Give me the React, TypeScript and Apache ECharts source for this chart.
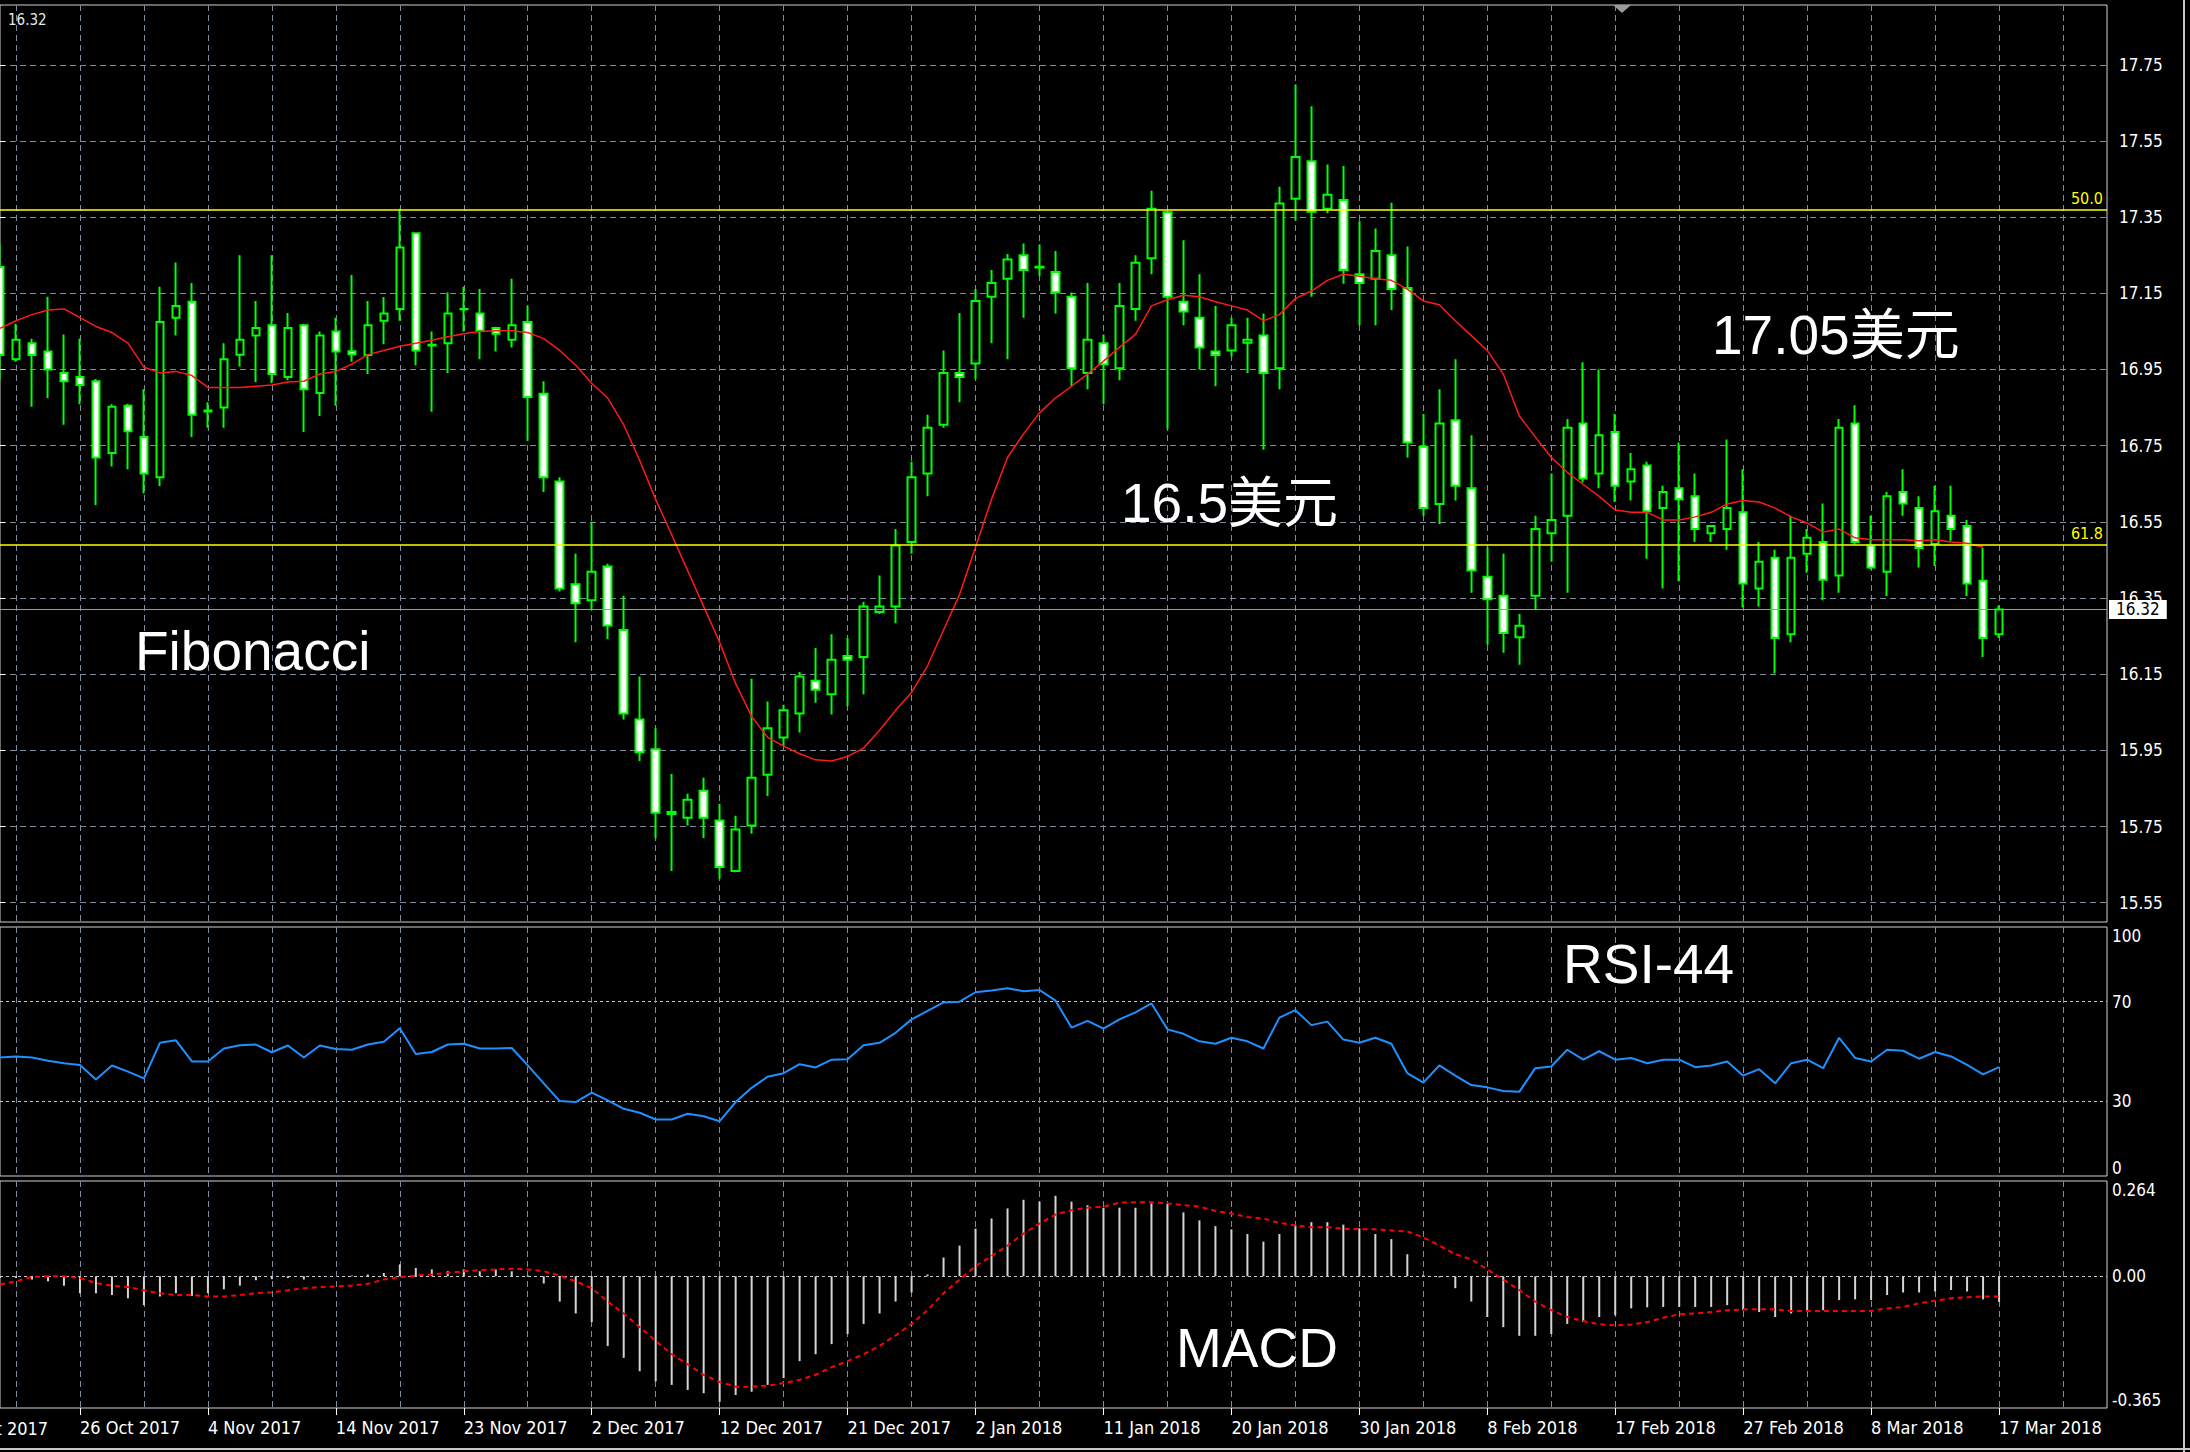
import React, { useEffect, useRef } from "react";
import * as echarts from "echarts";

// [open, close, low, high] for each daily bar, oldest first
const candles: number[][] = [
  [17.219, 16.988, 16.922, 17.281], [16.977, 17.028, 16.970, 17.070], [17.019, 16.988, 16.852, 17.031],
  [16.997, 16.950, 16.875, 17.141], [16.941, 16.919, 16.805, 17.042], [16.930, 16.909, 16.859, 17.031],
  [16.919, 16.719, 16.594, 16.925], [16.731, 16.852, 16.695, 16.859], [16.855, 16.788, 16.688, 16.860],
  [16.773, 16.677, 16.625, 16.898], [16.667, 17.075, 16.644, 17.167], [17.086, 17.117, 17.039, 17.231],
  [17.128, 16.831, 16.773, 17.177], [16.842, 16.840, 16.797, 16.864], [16.850, 16.977, 16.797, 17.019],
  [16.989, 17.028, 16.958, 17.250], [17.039, 17.059, 16.917, 17.130], [17.066, 16.938, 16.914, 17.250],
  [16.930, 17.059, 16.922, 17.098], [17.066, 16.898, 16.786, 17.070], [16.888, 17.039, 16.828, 17.050],
  [17.050, 16.997, 16.855, 17.086], [16.998, 16.990, 16.970, 17.198], [16.988, 17.066, 16.938, 17.130],
  [17.078, 17.097, 17.016, 17.140], [17.109, 17.270, 17.078, 17.372], [17.308, 17.000, 16.961, 17.310],
  [17.015, 17.013, 16.839, 17.050], [17.019, 17.097, 16.941, 17.152], [17.109, 17.108, 17.050, 17.167],
  [17.097, 17.052, 16.977, 17.161], [17.059, 17.044, 16.997, 17.062], [17.028, 17.066, 17.008, 17.188],
  [17.075, 16.878, 16.763, 17.117], [16.886, 16.667, 16.628, 16.919], [16.656, 16.375, 16.367, 16.667],
  [16.386, 16.336, 16.234, 16.466], [16.344, 16.419, 16.320, 16.550], [16.433, 16.278, 16.242, 16.440],
  [16.266, 16.047, 16.031, 16.356], [16.031, 15.945, 15.922, 16.144], [15.953, 15.786, 15.719, 16.008],
  [15.788, 15.783, 15.633, 15.888], [15.773, 15.820, 15.753, 15.836], [15.844, 15.773, 15.720, 15.878],
  [15.766, 15.644, 15.613, 15.809], [15.633, 15.742, 15.630, 15.778], [15.753, 15.878, 15.731, 16.138],
  [15.886, 16.008, 15.830, 16.078], [15.984, 16.055, 15.961, 16.070], [16.047, 16.144, 15.997, 16.156],
  [16.133, 16.109, 16.075, 16.219], [16.097, 16.188, 16.044, 16.255], [16.198, 16.188, 16.066, 16.245],
  [16.195, 16.328, 16.097, 16.340], [16.313, 16.328, 16.308, 16.409], [16.328, 16.488, 16.284, 16.531],
  [16.497, 16.667, 16.466, 16.708], [16.677, 16.797, 16.617, 16.831], [16.805, 16.941, 16.797, 17.000],
  [16.941, 16.930, 16.864, 17.098], [16.966, 17.130, 16.925, 17.161], [17.141, 17.177, 17.019, 17.211],
  [17.188, 17.239, 16.977, 17.253], [17.250, 17.211, 17.086, 17.281], [17.220, 17.218, 17.195, 17.278],
  [17.206, 17.153, 17.097, 17.261], [17.141, 16.953, 16.906, 17.152], [16.941, 17.028, 16.898, 17.177],
  [17.019, 16.964, 16.859, 17.042], [16.953, 17.117, 16.922, 17.177], [17.109, 17.230, 17.078, 17.250],
  [17.242, 17.372, 17.200, 17.419], [17.363, 17.141, 16.794, 17.367], [17.128, 17.102, 17.066, 17.289],
  [17.086, 17.008, 16.950, 17.200], [16.997, 16.988, 16.906, 17.117], [17.000, 17.066, 16.984, 17.086],
  [17.020, 17.028, 16.941, 17.086], [17.039, 16.941, 16.739, 17.097], [16.953, 17.386, 16.898, 17.430],
  [17.398, 17.508, 17.341, 17.698], [17.497, 17.364, 17.141, 17.641], [17.372, 17.409, 17.360, 17.488],
  [17.395, 17.211, 17.175, 17.484], [17.200, 17.177, 17.066, 17.339], [17.188, 17.261, 17.066, 17.320],
  [17.250, 17.161, 17.106, 17.388], [17.164, 16.758, 16.719, 17.273], [16.747, 16.586, 16.566, 16.833],
  [16.597, 16.808, 16.544, 16.898], [16.817, 16.645, 16.606, 16.977], [16.638, 16.422, 16.364, 16.777],
  [16.406, 16.347, 16.227, 16.484], [16.356, 16.258, 16.206, 16.466], [16.247, 16.277, 16.175, 16.308],
  [16.356, 16.531, 16.320, 16.566], [16.520, 16.555, 16.445, 16.677], [16.566, 16.797, 16.364, 16.820],
  [16.808, 16.664, 16.653, 16.969], [16.677, 16.777, 16.638, 16.950], [16.786, 16.645, 16.602, 16.833],
  [16.656, 16.688, 16.606, 16.731], [16.698, 16.578, 16.453, 16.708], [16.586, 16.628, 16.375, 16.645],
  [16.638, 16.609, 16.394, 16.758], [16.617, 16.531, 16.497, 16.677], [16.520, 16.539, 16.497, 16.540],
  [16.531, 16.586, 16.477, 16.766], [16.575, 16.388, 16.325, 16.688], [16.375, 16.445, 16.328, 16.497],
  [16.456, 16.245, 16.152, 16.477], [16.255, 16.456, 16.234, 16.566], [16.466, 16.508, 16.416, 16.531],
  [16.497, 16.398, 16.344, 16.598], [16.409, 16.797, 16.364, 16.820], [16.808, 16.497, 16.490, 16.856],
  [16.488, 16.430, 16.425, 16.566], [16.419, 16.617, 16.355, 16.628], [16.628, 16.598, 16.566, 16.688],
  [16.586, 16.481, 16.430, 16.617], [16.492, 16.578, 16.434, 16.645], [16.566, 16.531, 16.500, 16.645],
  [16.539, 16.388, 16.355, 16.555], [16.395, 16.245, 16.195, 16.481], [16.255, 16.320, 16.245, 16.330],
];

// moving average (red line)
const maValues: number[] = [
  17.058, 17.078, 17.094, 17.106, 17.109, 17.086, 17.063, 17.047, 17.019, 16.956,
  16.941, 16.945, 16.934, 16.903, 16.903, 16.903, 16.906, 16.909, 16.917, 16.919,
  16.938, 16.945, 16.964, 16.989, 17.000, 17.011, 17.019, 17.027, 17.036, 17.044,
  17.050, 17.052, 17.052, 17.047, 17.031, 17.000, 16.961, 16.914, 16.875, 16.805,
  16.711, 16.609, 16.516, 16.422, 16.328, 16.234, 16.125, 16.039, 15.984, 15.961,
  15.941, 15.925, 15.922, 15.934, 15.956, 16.003, 16.055, 16.102, 16.172, 16.266,
  16.359, 16.484, 16.609, 16.719, 16.781, 16.836, 16.875, 16.906, 16.938, 16.972,
  17.008, 17.042, 17.117, 17.133, 17.145, 17.141, 17.128, 17.117, 17.106, 17.078,
  17.094, 17.136, 17.156, 17.184, 17.200, 17.195, 17.188, 17.184, 17.161, 17.130,
  17.120, 17.078, 17.039, 17.000, 16.938, 16.828, 16.773, 16.719, 16.680, 16.648,
  16.617, 16.581, 16.575, 16.575, 16.555, 16.555, 16.563, 16.575, 16.597, 16.606,
  16.602, 16.586, 16.563, 16.547, 16.523, 16.531, 16.508, 16.503, 16.503, 16.503,
  16.500, 16.503, 16.497, 16.494, 16.484,
];

const rsiValues: number[] = [
  47.6, 48.0, 47.6, 46.3, 45.3, 44.6, 38.8, 44.4, 41.9, 39.2,
  53.5, 54.5, 46.0, 46.0, 51.2, 52.5, 52.8, 49.7, 52.4, 47.6,
  52.4, 51.0, 50.7, 52.8, 53.9, 59.3, 49.0, 49.8, 52.8, 53.1,
  51.2, 51.2, 51.4, 44.4, 37.2, 30.1, 29.7, 33.5, 30.4, 27.0,
  25.4, 22.7, 22.7, 25.0, 24.0, 22.0, 29.7, 35.4, 39.9, 41.3,
  44.9, 43.6, 46.7, 46.9, 52.5, 53.5, 57.5, 62.9, 66.3, 69.7,
  70.0, 73.8, 74.5, 75.4, 74.2, 74.7, 70.4, 59.6, 62.3, 59.2,
  62.9, 65.7, 69.3, 58.9, 57.1, 54.1, 53.1, 55.5, 54.1, 51.2,
  63.6, 66.6, 60.6, 62.0, 54.8, 53.5, 55.5, 53.1, 41.3, 37.5,
  44.4, 40.3, 36.5, 35.6, 34.1, 33.8, 43.3, 44.0, 50.7, 46.7,
  50.1, 46.7, 47.4, 45.3, 46.7, 46.7, 43.7, 44.4, 46.0, 40.3,
  42.9, 37.2, 45.3, 46.7, 43.3, 55.5, 47.4, 46.0, 50.7, 50.3,
  47.1, 49.8, 48.0, 44.6, 40.8, 43.7,
];

const macdHist: number[] = [
  -0.005, -0.005, -0.009, -0.014, -0.026, -0.047, -0.047, -0.052, -0.061, -0.080,
  -0.056, -0.047, -0.055, -0.047, -0.036, -0.026, -0.011, -0.008, -0.005, -0.009,
  -0.002, 0.000, 0.002, 0.005, 0.009, 0.033, 0.023, 0.019, 0.014, 0.019,
  0.014, 0.019, 0.014, 0.002, -0.020, -0.070, -0.103, -0.127, -0.193, -0.226,
  -0.263, -0.291, -0.301, -0.315, -0.324, -0.348, -0.329, -0.320, -0.301, -0.282,
  -0.235, -0.216, -0.188, -0.160, -0.132, -0.103, -0.070, -0.045, 0.005, 0.052,
  0.085, 0.132, 0.160, 0.188, 0.212, 0.207, 0.223, 0.207, 0.197, 0.190,
  0.190, 0.190, 0.202, 0.202, 0.177, 0.155, 0.139, 0.130, 0.117, 0.096,
  0.117, 0.141, 0.150, 0.150, 0.143, 0.133, 0.117, 0.103, 0.061, 0.003,
  -0.003, -0.033, -0.070, -0.113, -0.141, -0.165, -0.165, -0.160, -0.132, -0.127,
  -0.113, -0.108, -0.089, -0.086, -0.085, -0.085, -0.085, -0.085, -0.080, -0.094,
  -0.099, -0.113, -0.103, -0.094, -0.094, -0.066, -0.064, -0.066, -0.052, -0.045,
  -0.045, -0.042, -0.038, -0.042, -0.064, -0.071,
];

const macdSignal: number[] = [
  -0.023, -0.014, -0.002, 0.000, 0.000, -0.005, -0.019, -0.026, -0.030, -0.039,
  -0.047, -0.052, -0.052, -0.056, -0.056, -0.052, -0.047, -0.044, -0.039, -0.033,
  -0.030, -0.028, -0.026, -0.021, -0.009, -0.002, 0.002, 0.005, 0.009, 0.014,
  0.017, 0.019, 0.021, 0.019, 0.014, 0.002, -0.014, -0.033, -0.070, -0.103,
  -0.141, -0.179, -0.216, -0.244, -0.273, -0.293, -0.306, -0.306, -0.303, -0.296,
  -0.287, -0.273, -0.252, -0.235, -0.216, -0.193, -0.164, -0.132, -0.094, -0.047,
  -0.009, 0.028, 0.056, 0.085, 0.118, 0.146, 0.171, 0.183, 0.190, 0.193,
  0.204, 0.205, 0.205, 0.202, 0.197, 0.193, 0.181, 0.174, 0.164, 0.160,
  0.148, 0.141, 0.136, 0.136, 0.132, 0.130, 0.130, 0.127, 0.124, 0.108,
  0.085, 0.061, 0.047, 0.019, -0.009, -0.038, -0.070, -0.094, -0.113, -0.124,
  -0.133, -0.136, -0.134, -0.127, -0.115, -0.105, -0.103, -0.099, -0.094, -0.092,
  -0.091, -0.092, -0.096, -0.096, -0.096, -0.096, -0.096, -0.096, -0.089, -0.085,
  -0.075, -0.068, -0.061, -0.058, -0.056, -0.056,
];

const dateLabels: string[] = [
  "26 Oct 2017", "4 Nov 2017", "14 Nov 2017", "23 Nov 2017", "2 Dec 2017", "12 Dec 2017",
  "21 Dec 2017", "2 Jan 2018", "11 Jan 2018", "20 Jan 2018", "30 Jan 2018", "8 Feb 2018",
  "17 Feb 2018", "27 Feb 2018", "8 Mar 2018", "17 Mar 2018",
];
const hiddenFirstLabel = "17 Oct 2017";
const priceTicks: number[] = [15.55, 15.75, 15.95, 16.15, 16.35, 16.55, 16.75, 16.95, 17.15, 17.35, 17.55, 17.75];
const rsiTicks: number[] = [0, 30, 70, 100];
const rsiLevels: number[] = [30, 70];
const macdTicks: number[] = [-0.365, 0, 0.264];
const fibLevels = [
  { name: "50.0", value: 17.373 },
  { name: "61.8", value: 16.491 },
];
const bidPrice = 16.32;

const annotations = [
  { text: "Fibonacci", x: 135, y: 651 },
  { text: "16.5美元", x: 1121, y: 503 },
  { text: "17.05美元", x: 1712, y: 335 },
  { text: "RSI-44", x: 1563, y: 964 },
  { text: "MACD", x: 1176, y: 1348 },
];

// axis layout
const X_MIN = 0;
const X_MAX = 131.75;
const firstLabelBar = 5;
const barsPerLabel = 8;
const barsPerGrid = 4;
const gridBars: number[] = [];
for (let i = 1; i <= 131; i += barsPerGrid) gridBars.push(i);
const labelBars = dateLabels.map((_, k) => firstLabelBar + barsPerLabel * k);
const labelMap: Record<number, string> = {};
labelBars.forEach((b, k) => (labelMap[b] = dateLabels[k]));

const AXIS_FONT = "'DejaVu Sans Condensed', 'Liberation Sans Narrow', 'DejaVu Sans', sans-serif";
const BIG_FONT = "'Liberation Sans', Arial, 'Noto Sans CJK SC', sans-serif";
const GRID_COLOR = "#7d8c9e";
const FRAME = "#d0d0d0";

export default function App() {
  const ref = useRef<HTMLDivElement>(null);

  useEffect(() => {
    const chart = echarts.init(ref.current as HTMLDivElement, null, { renderer: "svg" });

    const xBase = (gridIndex: number, position: string) => ({
      type: "value",
      gridIndex,
      position,
      min: X_MIN,
      max: X_MAX,
      axisLine: { show: false },
      axisLabel: { show: false },
      axisTick: { show: false, customValues: gridBars },
      splitLine: { show: true, lineStyle: { color: GRID_COLOR, type: [6, 4], width: 1 } },
    });

    const option: any = {
      animation: false,
      backgroundColor: "#000000",
      grid: [
        { left: -1, right: 83, top: 5, height: 917, show: true, borderColor: FRAME, borderWidth: 1 },
        { left: -1, right: 83, top: 927, height: 249, show: true, borderColor: FRAME, borderWidth: 1 },
        { left: -1, right: 83, top: 1181, height: 227, show: true, borderColor: FRAME, borderWidth: 1 },
      ],
      xAxis: [
        xBase(0, "bottom"),
        xBase(1, "bottom"),
        xBase(2, "top"),
        {
          type: "value",
          gridIndex: 2,
          position: "bottom",
          min: X_MIN,
          max: X_MAX,
          axisLine: { show: false },
          axisTick: { show: true, customValues: labelBars, length: 7, lineStyle: { color: "#ffffff" } },
          axisLabel: {
            show: true,
            customValues: labelBars,
            formatter: (v: number) => labelMap[v] ?? "",
            color: "#ffffff",
            fontFamily: AXIS_FONT,
            fontSize: 18,
            align: "left",
            margin: 10,
          },
          splitLine: { show: false },
        },
      ],
      yAxis: [
        {
          type: "value",
          gridIndex: 0,
          position: "right",
          min: 15.4993,
          max: 17.907,
          axisLine: { show: false },
          axisTick: { show: true, customValues: priceTicks, length: 5, lineStyle: { color: "#ffffff" } },
          axisLabel: {
            customValues: priceTicks,
            formatter: (v: number) => v.toFixed(2),
            color: "#ffffff",
            fontFamily: AXIS_FONT,
            fontSize: 17,
            margin: 12,
          },
          splitLine: { show: true, lineStyle: { color: GRID_COLOR, type: [6, 4], width: 1 } },
        },
        {
          type: "value",
          gridIndex: 1,
          position: "right",
          min: 0,
          max: 100,
          axisLine: { show: false },
          axisTick: { show: false, customValues: rsiLevels },
          axisLabel: {
            customValues: rsiTicks,
            color: "#ffffff",
            fontFamily: AXIS_FONT,
            fontSize: 17,
            margin: 5,
            verticalAlignMinLabel: "bottom",
            verticalAlignMaxLabel: "top",
          },
          splitLine: { show: true, lineStyle: { color: "#c8c8c8", type: [3, 3], width: 1 } },
        },
        {
          type: "value",
          gridIndex: 2,
          position: "right",
          min: -0.365,
          max: 0.264,
          axisLine: { show: false },
          axisTick: { show: false, customValues: [0] },
          axisLabel: {
            customValues: macdTicks,
            formatter: (v: number) => (v === 0 ? "0.00" : v.toFixed(3)),
            color: "#ffffff",
            fontFamily: AXIS_FONT,
            fontSize: 17,
            margin: 5,
            verticalAlignMinLabel: "bottom",
            verticalAlignMaxLabel: "top",
          },
          splitLine: { show: true, lineStyle: { color: "#c8c8c8", type: [3, 3], width: 1 } },
        },
      ],
      series: [
        {
          type: "candlestick",
          xAxisIndex: 0,
          yAxisIndex: 0,
          barWidth: 8,
          data: candles.map((c, i) => [i, c[0], c[1], c[2], c[3]]),
          itemStyle: {
            color: "#000000",
            color0: "#ffffff",
            borderColor: "#00ff00",
            borderColor0: "#00ff00",
            borderColorDoji: "#00ff00",
            borderWidth: 2,
          },
          markLine: {
            silent: true,
            symbol: ["none", "none"],
            lineStyle: { color: "#8e9cae", type: "solid", width: 1 },
            label: {
              show: true,
              position: "end",
              formatter: bidPrice.toFixed(2),
              backgroundColor: "#ffffff",
              color: "#000000",
              fontFamily: AXIS_FONT,
              fontSize: 17,
              padding: [1, 7, 1, 7],
              distance: 2,
            },
            data: [{ yAxis: bidPrice }],
          },
        },
        {
          type: "line",
          xAxisIndex: 0,
          yAxisIndex: 0,
          data: maValues.map((v, i) => [i, v]),
          symbol: "none",
          lineStyle: { color: "#ff1a1a", width: 1.5 },
          markLine: {
            silent: true,
            symbol: ["none", "none"],
            lineStyle: { color: "#ffff00", type: "solid", width: 1.5 },
            label: {
              show: true,
              position: "insideEndTop",
              color: "#ffff00",
              fontFamily: AXIS_FONT,
              fontSize: 16,
              distance: [4, 3],
              formatter: (p: any) => p.name,
            },
            data: fibLevels.map((f) => ({ name: f.name, yAxis: f.value })),
          },
          z: 3,
        },
        {
          type: "line",
          xAxisIndex: 1,
          yAxisIndex: 1,
          data: rsiValues.map((v, i) => [i, v]),
          symbol: "none",
          lineStyle: { color: "#1e90ff", width: 2 },
        },
        {
          type: "bar",
          xAxisIndex: 2,
          yAxisIndex: 2,
          barWidth: 2,
          data: macdHist.map((v, i) => [i, v]),
          itemStyle: { color: "#d4d4d4" },
        },
        {
          type: "line",
          xAxisIndex: 2,
          yAxisIndex: 2,
          data: macdSignal.map((v, i) => [i, v]),
          symbol: "none",
          lineStyle: { color: "#ff0000", width: 2, type: [5, 4] },
          z: 3,
        },
      ],
      graphic: [
        ...annotations.map((a) => ({
          type: "text",
          x: a.x,
          y: a.y,
          z: 100,
          style: {
            text: a.text,
            fill: "#ffffff",
            fontFamily: BIG_FONT,
            fontSize: 55,
            align: "left",
            verticalAlign: "middle",
          },
        })),
        {
          type: "text",
          x: -52,
          y: 1428,
          z: 100,
          style: { text: hiddenFirstLabel, fill: "#ffffff", fontFamily: AXIS_FONT, fontSize: 18, align: "left", verticalAlign: "middle" },
        },
        {
          type: "text",
          x: 8,
          y: 20,
          z: 100,
          style: { text: bidPrice.toFixed(2), fill: "#e8e8e8", fontFamily: AXIS_FONT, fontSize: 15, align: "left", verticalAlign: "middle" },
        },
        {
          type: "polygon",
          z: 100,
          shape: { points: [[1613, 5], [1631, 5], [1622, 13]] },
          style: { fill: "#9a9a9a" },
        },
        {
          type: "line",
          z: 100,
          shape: { x1: 2184, y1: 0, x2: 2184, y2: 1452 },
          style: { stroke: "#c8c8c8", lineWidth: 2 },
        },
        {
          type: "line",
          z: 100,
          shape: { x1: 0, y1: 1449, x2: 2190, y2: 1449 },
          style: { stroke: "#c8c8c8", lineWidth: 2 },
        },
      ],
    };

    chart.setOption(option);
    return () => chart.dispose();
  }, []);

  return (
    <div
      ref={ref}
      style={{ position: "fixed", left: 0, top: 0, width: 2190, height: 1452, background: "#000" }}
    />
  );
}
